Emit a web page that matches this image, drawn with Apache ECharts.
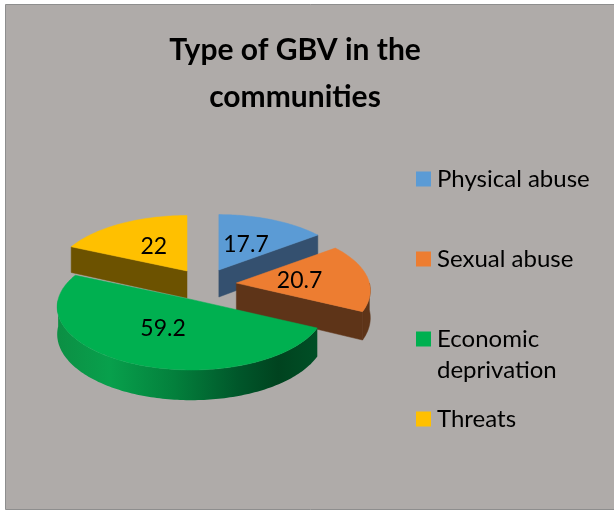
<!DOCTYPE html>
<html>
<head>
<meta charset="utf-8">
<script src="https://cdn.jsdelivr.net/npm/echarts@6/dist/echarts.min.js"></script>
<style>
  html, body { margin: 0; padding: 0; background: #ffffff; }
  #chart { width: 614px; height: 511px; }
</style>
</head>
<body>
<div id="chart"></div>
<script>
// ---- data ----
const categories = ['Physical abuse', 'Sexual abuse', 'Economic deprivation', 'Threats'];
const legendLabels = ['Physical abuse', 'Sexual abuse', 'Economic\ndeprivation', 'Threats'];
const values = [17.7, 20.7, 59.2, 22];
const chartTitle = 'Type of GBV in the\ncommunities';

// ---- styling ----
const topColors = ['#5B9BD5', '#ED7D31', '#00B050', '#FFC000'];
const sideColors = ['#34506F', '#5E3418', '#00652F', '#6C5200'];
const greenSide = {
  type: 'linear', x: 0, y: 0, x2: 1, y2: 0,
  colorStops: [
    { offset: 0, color: '#0C8F44' },
    { offset: 0.2, color: '#08A04C' },
    { offset: 0.45, color: '#03803C' },
    { offset: 0.7, color: '#00562A' },
    { offset: 0.85, color: '#00431F' },
    { offset: 1, color: '#004F26' }
  ]
};
const FONT = 'Lato, "Open Sans", sans-serif';

// ---- 3D pie geometry ----
const CENTER = [204.5, 284.6];
const EXPLODE = [32, 16.3];
const RADIUS = [133, 63];
const PERSPECTIVE = 0.12;
const DEPTH = 27;
const LABEL_R = 0.48;

const total = values.reduce((a, b) => a + b, 0);
let running = 0;
const pieData = values.map((v, i) => {
  const item = { name: categories[i], value: [v, running] };
  running += v;
  return item;
});

function sliceGeom(api) {
  const v = api.value(0);
  const before = api.value(1);
  const a0 = before / total * 2 * Math.PI;
  const a1 = (before + v) / total * 2 * Math.PI;
  const mid = (a0 + a1) / 2;
  return {
    v, a0, a1, mid,
    cx: CENTER[0] + EXPLODE[0] * Math.sin(mid),
    cy: CENTER[1] - EXPLODE[1] * Math.cos(mid)
  };
}

// angle measured clockwise from 12 o'clock; r is fraction of the radius
function rimPoint(g, th, r, drop) {
  const zf = -Math.cos(th) * r;
  const f = 1 + PERSPECTIVE * zf;
  return [
    g.cx + RADIUS[0] * Math.sin(th) * r * f,
    g.cy + RADIUS[1] * zf * f + drop * f
  ];
}

function arcPoints(g, from, to, drop) {
  const n = Math.max(2, Math.ceil(Math.abs(to - from) / 0.02));
  const pts = [];
  for (let k = 0; k <= n; k++) {
    pts.push(rimPoint(g, from + (to - from) * k / n, 1, drop));
  }
  return pts;
}

function radialFace(g, th, color) {
  return {
    type: 'polygon',
    shape: {
      points: [
        rimPoint(g, th, 0, 0), rimPoint(g, th, 1, 0),
        rimPoint(g, th, 1, DEPTH), rimPoint(g, th, 0, DEPTH)
      ]
    },
    style: { fill: color, stroke: color, lineWidth: 0.5 }
  };
}

function renderSides(params, api) {
  const g = sliceGeom(api);
  const i = params.dataIndex;
  const color = sideColors[i];
  const children = [];
  if (Math.sin(g.a0) < -1e-6) children.push(radialFace(g, g.a0, color));
  if (Math.sin(g.a1) > 1e-6) children.push(radialFace(g, g.a1, color));
  const s = Math.max(g.a0, Math.PI / 2);
  const e = Math.min(g.a1, 1.5 * Math.PI);
  if (e > s) {
    const pts = arcPoints(g, s, e, 0).concat(arcPoints(g, e, s, DEPTH));
    const fill = i === 2 ? greenSide : color;
    children.push({
      type: 'polygon',
      shape: { points: pts },
      style: { fill: fill, stroke: i === 2 ? null : color, lineWidth: 0.5 }
    });
  }
  return { type: 'group', children };
}

function renderTops(params, api) {
  const g = sliceGeom(api);
  const i = params.dataIndex;
  const pts = [rimPoint(g, g.mid, 0, 0)].concat(arcPoints(g, g.a0, g.a1, 0));
  const lp = rimPoint(g, g.mid, LABEL_R, 0);
  return {
    type: 'group',
    children: [
      {
        type: 'polygon',
        shape: { points: pts },
        style: { fill: topColors[i], stroke: topColors[i], lineWidth: 0.5 }
      },
      {
        type: 'text',
        x: lp[0], y: lp[1],
        style: {
          text: String(g.v),
          fill: '#000000',
          font: '23px ' + FONT,
          align: 'center',
          verticalAlign: 'middle'
        },
        z2: 10
      }
    ]
  };
}

// ---- legend ----
const legendGraphics = [];
categories.forEach((name, i) => {
  const y = 179 + i * 80;
  legendGraphics.push({
    type: 'rect', z: 5,
    shape: { x: 416, y: y - 7.5, width: 15, height: 15 },
    style: { fill: topColors[i] }
  });
  legendGraphics.push({
    type: 'text', z: 5,
    x: 437, y: y - 15.5,
    style: {
      text: legendLabels[i],
      fill: '#000000',
      font: '24px ' + FONT,
      lineHeight: 31,
      verticalAlign: 'top'
    }
  });
});

const chart = echarts.init(document.getElementById('chart'), null, { renderer: 'canvas' });
chart.setOption({
  animation: false,
  backgroundColor: '#ffffff',
  title: {
    text: chartTitle,
    left: 290,
    top: 22,
    textAlign: 'center',
    textStyle: {
      fontFamily: FONT,
      fontWeight: 'bold',
      fontSize: 30,
      lineHeight: 47,
      color: '#000000'
    }
  },
  graphic: [
    {
      type: 'rect', z: -10,
      shape: { x: 5.5, y: 4.5, width: 620, height: 505 },
      style: { fill: '#AFABA9', stroke: '#8E8E8E', lineWidth: 1 }
    }
  ].concat(legendGraphics),
  series: [
    {
      type: 'custom',
      name: 'sides',
      coordinateSystem: 'none',
      z: 2,
      data: pieData,
      renderItem: renderSides
    },
    {
      type: 'custom',
      name: 'tops',
      coordinateSystem: 'none',
      z: 3,
      data: pieData,
      renderItem: renderTops
    }
  ]
});
</script>
</body>
</html>
